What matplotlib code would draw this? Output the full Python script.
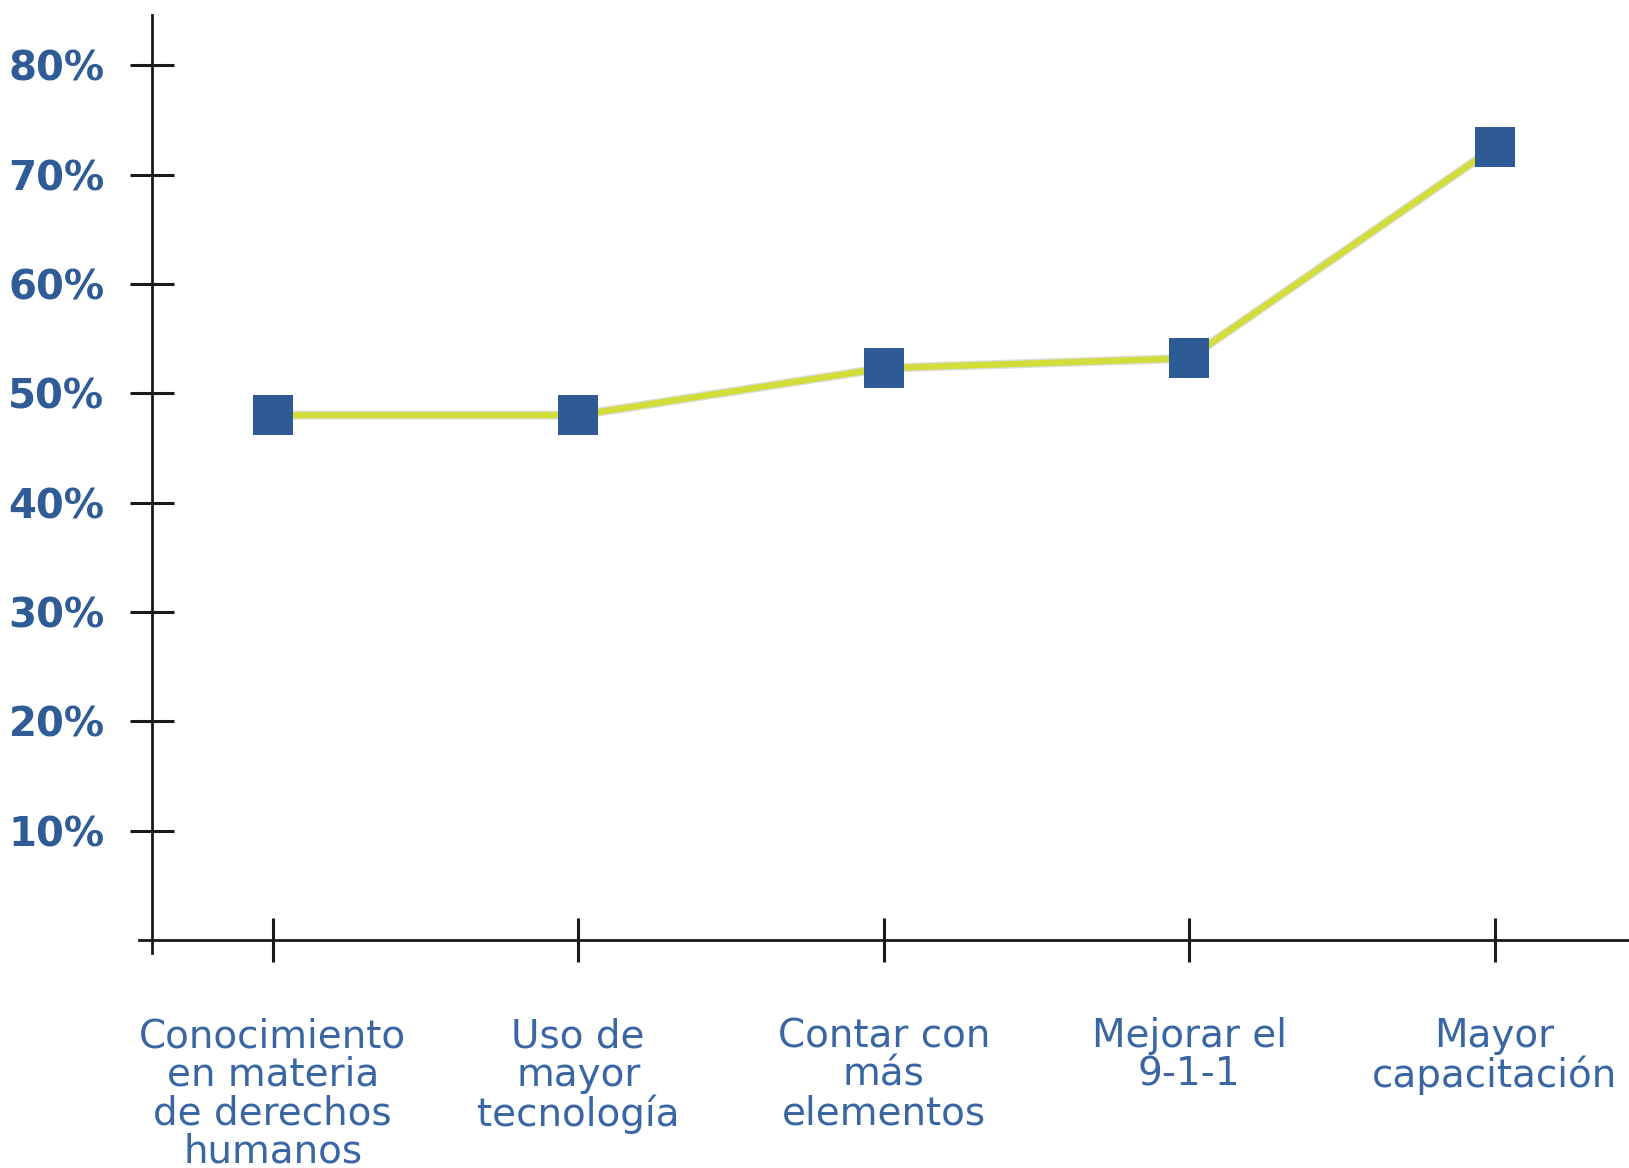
import matplotlib
matplotlib.use("Agg")
import matplotlib.pyplot as plt

categories = ["Conocimiento\nen materia\nde derechos\nhumanos",
              "Uso de\nmayor\ntecnología",
              "Contar con\nmás\nelementos",
              "Mejorar el\n9-1-1",
              "Mayor\ncapacitación"]
values = [48.0, 48.0, 52.3, 53.2, 72.5]
yticks = [10, 20, 30, 40, 50, 60, 70, 80]
ytick_labels = ["10%", "20%", "30%", "40%", "50%", "60%", "70%", "80%"]

fig = plt.figure(figsize=(16.29, 11.68), dpi=100)
ax = fig.add_axes([139/1629, (1168-953)/1168, 1490/1629, 938/1168])

x = list(range(len(categories)))
ax.plot(x, values, color="#b9bdb0", lw=6.5, alpha=0.5, zorder=2, solid_capstyle="butt")
ax.plot(x, values, color="#d3dd3a", lw=4.5, zorder=3,
        marker="s", markersize=29, markerfacecolor="#2e5a96",
        markeredgecolor="#2e5a96", markeredgewidth=0)

ax.set_xlim(-0.438, 4.44)
ax.set_ylim(-1.19, 84.6)

for s in ["top", "right"]:
    ax.spines[s].set_visible(False)
ax.spines["left"].set_position(("data", -0.394))
ax.spines["bottom"].set_position(("data", 0))
for s in ["left", "bottom"]:
    ax.spines[s].set_linewidth(2.0)
    ax.spines[s].set_color("#1a1a1a")

ax.set_yticks(yticks)
ax.set_yticklabels(ytick_labels, fontsize=29, fontweight="bold", color="#2f5b96")
ax.set_xticks(x)
ax.set_xticklabels(categories, fontsize=28, color="#3a67a4", linespacing=1.02)

ax.tick_params(axis="both", direction="inout", length=31, width=2.2, color="#1a1a1a")
ax.tick_params(axis="y", pad=19)
ax.tick_params(axis="x", pad=40)

fig.savefig("out.png", dpi=100, facecolor="white")
